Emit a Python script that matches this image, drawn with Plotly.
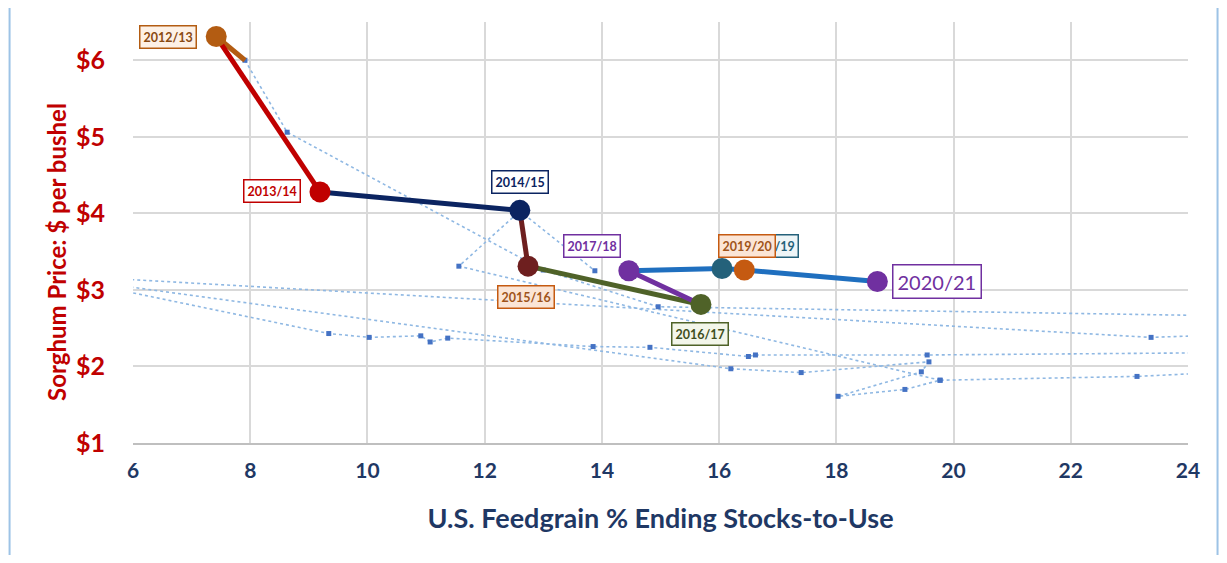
import plotly.graph_objects as go

# main marketing-year path (stocks-to-use %, sorghum $/bu)
years = ["2012/13", "2013/14", "2014/15", "2015/16", "2016/17",
         "2017/18", "2018/19", "2019/20", "2020/21"]
stocks = [7.42, 9.19, 12.60, 12.74, 15.69, 14.46, 16.05, 16.43, 18.70]
price = [6.31, 4.28, 4.04, 3.31, 2.81, 3.25, 3.28, 3.26, 3.11]
point_colors = ["#b35c12", "#c00000", "#0b2461", "#6e1f1f", "#4f6228",
                "#7030a0", "#24617a", "#c55a11", "#7030a0"]
# colour of the segment arriving at each year
seg_colors = [None, "#c00000", "#0b2461", "#6e1f1f", "#4f6228",
              "#7030a0", "#1f6fbf", "#1f6fbf", "#1f6fbf"]
label_fill = ["#fdf1e6", "#ffffff", "#ffffff", "#fbe5d6", "#f3f6ea",
              "#ffffff", "#eef5f7", "#fbe5d6", "#ffffff"]
label_text = ["#8a4a12", "#c00000", "#0b2461", "#a0541a", "#3f4f20",
              "#7030a0", "#24617a", "#a0541a", "#7030a0"]
label_border = ["#b35c12", "#c00000", "#0b2461", "#c55a11", "#4f6228",
                "#7030a0", "#24617a", "#c55a11", "#7030a0"]

# older years, dotted background trace (None breaks the line)
hist_x = [7.91, 8.63, 13.00, 14.96, 28.0, None,
          28.0, 23.37, 1.0, None,
          4.5, 9.34, 10.03, 10.91, 11.07, 11.37, 13.85, 14.82, 16.50, 16.62, 19.55, 28.0, None,
          2.0, 16.20, 17.40, 19.58, 19.45, 18.03, 19.17, 19.77, 23.13, 28.0, None,
          19.77, 11.56, 12.60, 13.88]
hist_y = [6.00, 5.06, 3.26, 2.78, 2.62, None,
          2.50, 2.38, 3.35, None,
          3.20, 2.43, 2.38, 2.40, 2.32, 2.37, 2.26, 2.25, 2.13, 2.15, 2.15, 2.20, None,
          3.45, 1.97, 1.92, 2.06, 1.93, 1.61, 1.70, 1.82, 1.87, 2.05, None,
          1.82, 3.31, 4.03, 3.25]

fig = go.Figure()

fig.add_trace(go.Scatter(
    x=hist_x, y=hist_y, mode="lines+markers",
    line=dict(color="#8fb8e3", width=1.6, dash="dot"),
    marker=dict(symbol="square", size=5, color="#4472c4"),
    connectgaps=False, hoverinfo="skip"))

# brown stub from 2012/13 toward the first dotted point
fig.add_trace(go.Scatter(
    x=[stocks[0], hist_x[0]], y=[price[0], hist_y[0]], mode="lines",
    line=dict(color=point_colors[0], width=5)))

for i in range(1, len(years)):
    fig.add_trace(go.Scatter(
        x=stocks[i - 1:i + 1], y=price[i - 1:i + 1], mode="lines",
        line=dict(color=seg_colors[i], width=5)))

fig.add_trace(go.Scatter(
    x=stocks, y=price, mode="markers",
    marker=dict(size=21, color=point_colors), text=years))

# label offsets in pixels relative to each point
shifts = [(-48, 0), (-48, 1), (0, 28), (-2, -31), (-1, -30),
          (-37, 25), (48, 22), (3, 24), (60, 0)]
for i in range(len(years)):
    big = years[i] == "2020/21"
    fig.add_annotation(
        x=stocks[i], y=price[i], text=years[i], showarrow=False,
        xshift=shifts[i][0], yshift=shifts[i][1],
        font=dict(family="Lato", size=20 if big else 12.5,
                  color=label_text[i], weight="normal" if big else "bold"),
        bgcolor=label_fill[i], bordercolor=label_border[i],
        borderwidth=1.5, borderpad=4 if big else 3)

# y title drawn as an annotation so it can sit a little below centre
fig.add_annotation(
    xref="paper", yref="paper", x=-0.088, y=0.453, showarrow=False,
    text="Sorghum Price: $ per bushel", textangle=-90,
    font=dict(family="Lato", size=24, color="#c00000", weight="bold"))

# outer frame
fig.add_shape(type="rect", xref="paper", yref="paper",
              x0=-0.117, x1=1.028, y0=-0.272, y1=1.040,
              line=dict(color="#9dc3e6", width=2))

fig.update_layout(
    width=1211, height=547,
    margin=dict(l=125, r=31, t=14, b=112),
    paper_bgcolor="white", plot_bgcolor="white",
    showlegend=False,
    font=dict(family="Lato"),
    xaxis=dict(
        range=[6, 24], dtick=2, tick0=6,
        showgrid=True, gridcolor="#d9d9d9", gridwidth=1.5,
        zeroline=False, showline=True, linecolor="#bfbfbf", linewidth=2,
        tickfont=dict(family="Lato", size=21, color="#1f3864", weight="bold"),
        ticklabelstandoff=8,
        title=dict(text="U.S. Feedgrain % Ending Stocks-to-Use",
                   font=dict(family="Lato", size=27, color="#1f3864", weight="bold"),
                   standoff=28)),
    yaxis=dict(
        range=[1, 6.5], dtick=1, tick0=1,
        showgrid=True, gridcolor="#d9d9d9", gridwidth=1.5,
        zeroline=False, showline=False,
        tickprefix="$",
        tickfont=dict(family="Lato", size=25, color="#c00000", weight="bold"),
        ticklabelstandoff=27),
)

fig.write_html("out.html")
